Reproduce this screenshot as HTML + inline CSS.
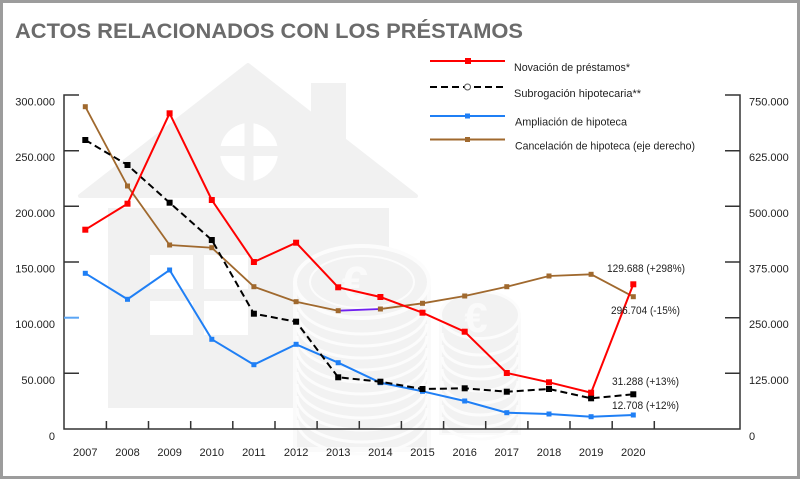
<!DOCTYPE html>
<html><head><meta charset="utf-8"><style>
html,body{margin:0;padding:0;background:#fff;}
svg{display:block;}
text{font-family:"Liberation Sans",sans-serif;}
</style></head><body>
<svg width="800" height="479" viewBox="0 0 800 479" xmlns="http://www.w3.org/2000/svg">
<rect x="0" y="0" width="800" height="479" fill="#fff"/>
<rect x="1.5" y="1.5" width="797" height="476" fill="none" stroke="#9c9c9c" stroke-width="3"/>

<!-- watermark house -->
<g fill="#f1f1f1">
  <rect x="311" y="83" width="35" height="70"/>
  <polygon points="248,65 80,196 416,196" stroke="#f1f1f1" stroke-width="4" stroke-linejoin="round"/>
  <rect x="108" y="208" width="281" height="200"/>
</g>
<circle cx="249" cy="152" r="29" fill="#fff"/>
<rect x="244.5" y="120" width="9" height="64" fill="#f1f1f1"/>
<rect x="218" y="146" width="64" height="10" fill="#f1f1f1"/>
<g fill="#fff">
  <rect x="150" y="255" width="43" height="34"/>
  <rect x="204" y="255" width="44" height="34"/>
  <rect x="150" y="301" width="43" height="34"/>
  <rect x="204" y="301" width="44" height="34"/>
</g>
<!-- coin stack 1 -->
<g>
  <rect x="293" y="282" width="138" height="170" fill="#fafafa"/>
  <rect x="297" y="282" width="130" height="165" fill="#f2f2f2"/>
  <g fill="none" stroke="#fcfcfc" stroke-width="3">
    <path d="M297,300 A65,34 0 0 0 427,300"/>
    <path d="M297,312 A65,34 0 0 0 427,312"/>
    <path d="M297,324 A65,34 0 0 0 427,324"/>
    <path d="M297,336 A65,34 0 0 0 427,336"/>
    <path d="M297,348 A65,34 0 0 0 427,348"/>
    <path d="M297,360 A65,34 0 0 0 427,360"/>
    <path d="M297,372 A65,34 0 0 0 427,372"/>
    <path d="M297,384 A65,34 0 0 0 427,384"/>
    <path d="M297,396 A65,34 0 0 0 427,396"/>
    <path d="M297,408 A65,34 0 0 0 427,408"/>
    <path d="M297,420 A65,34 0 0 0 427,420"/>
  </g>
  <ellipse cx="362" cy="282" rx="69" ry="38" fill="#fcfcfc"/>
  <ellipse cx="362" cy="282" rx="65" ry="34" fill="#f2f2f2"/>
  <ellipse cx="362" cy="282" rx="52" ry="26" fill="none" stroke="#fcfcfc" stroke-width="2"/>
  <text x="355" y="300" font-size="48" font-weight="bold" fill="#fafafa" text-anchor="middle">€</text>
</g>
<!-- coin stack 2 -->
<g>
  <rect x="439" y="315" width="82" height="120" fill="#fafafa"/>
  <rect x="442" y="315" width="76" height="118" fill="#f2f2f2"/>
  <g fill="none" stroke="#fcfcfc" stroke-width="3">
    <path d="M442,333 A38,22 0 0 0 518,333"/>
    <path d="M442,345 A38,22 0 0 0 518,345"/>
    <path d="M442,357 A38,22 0 0 0 518,357"/>
    <path d="M442,369 A38,22 0 0 0 518,369"/>
    <path d="M442,381 A38,22 0 0 0 518,381"/>
    <path d="M442,393 A38,22 0 0 0 518,393"/>
    <path d="M442,405 A38,22 0 0 0 518,405"/>
    <path d="M442,417 A38,22 0 0 0 518,417"/>
  </g>
  <ellipse cx="480" cy="315" rx="41" ry="25" fill="#fcfcfc"/>
  <ellipse cx="480" cy="315" rx="38" ry="22" fill="#f2f2f2"/>
  <text x="476" y="332" font-size="42" font-weight="bold" fill="#fafafa" text-anchor="middle">€</text>
</g>

<!-- title -->
<text x="15" y="38" font-size="21" font-weight="bold" fill="#6b6b6b" textLength="508" lengthAdjust="spacingAndGlyphs">ACTOS RELACIONADOS CON LOS PRÉSTAMOS</text>

<!-- axes -->
<g stroke="#333" stroke-width="1.5" fill="none">
  <path d="M79,95 H64 V429 H740 V95 H725"/>
  <path d="M64,150.7 H79 M64,206.3 H79 M64,262 H79 M64,373.3 H79"/>
  <path d="M725,150.7 H740 M725,206.3 H740 M725,262 H740 M725,317.7 H740 M725,373.3 H740"/>
  <path d="M106.4,429 V421 M148.5,429 V421 M190.7,429 V421 M232.8,429 V421 M275,429 V421 M317.1,429 V421 M359.3,429 V421 M401.4,429 V421 M443.6,429 V421 M485.7,429 V421 M527.9,429 V421 M570,429 V421 M612.2,429 V421 M654.3,429 V421"/>
</g>
<path d="M64,317.7 H79" stroke="#5aa5f5" stroke-width="2"/>

<!-- left labels -->
<g font-size="11" fill="#222" text-anchor="end">
  <text x="55" y="105.5">300.000</text>
  <text x="55" y="161">250.000</text>
  <text x="55" y="217">200.000</text>
  <text x="55" y="272.5">150.000</text>
  <text x="55" y="328">100.000</text>
  <text x="55" y="384">50.000</text>
  <text x="55" y="440">0</text>
</g>
<!-- right labels -->
<g font-size="11" fill="#222">
  <text x="749" y="105.5">750.000</text>
  <text x="749" y="161">625.000</text>
  <text x="749" y="217">500.000</text>
  <text x="749" y="272.5">375.000</text>
  <text x="749" y="328">250.000</text>
  <text x="749" y="384">125.000</text>
  <text x="749" y="440">0</text>
</g>
<!-- years -->
<g font-size="11" fill="#222" text-anchor="middle">
  <text x="85.3" y="456">2007</text>
  <text x="127.5" y="456">2008</text>
  <text x="169.6" y="456">2009</text>
  <text x="211.8" y="456">2010</text>
  <text x="253.9" y="456">2011</text>
  <text x="296.1" y="456">2012</text>
  <text x="338.2" y="456">2013</text>
  <text x="380.4" y="456">2014</text>
  <text x="422.5" y="456">2015</text>
  <text x="464.7" y="456">2016</text>
  <text x="506.8" y="456">2017</text>
  <text x="549" y="456">2018</text>
  <text x="591.1" y="456">2019</text>
  <text x="633.3" y="456">2020</text>
</g>

<!-- brown series -->
<polyline fill="none" stroke="#a0692e" stroke-width="1.8" points="85.3,106.7 127.5,186 169.6,245 211.8,247.7 253.9,286.7 296.1,301.7 338.2,310.7"/>
<polyline fill="none" stroke="#7020f0" stroke-width="1.8" points="338.2,310.7 380.4,309"/>
<polyline fill="none" stroke="#a0692e" stroke-width="1.8" points="380.4,309 422.5,303.3 464.7,296 506.8,286.7 549,276 591.1,274.3 633.3,296.7"/>
<g fill="#a0692e">
  <rect x="82.8" y="104.2" width="5" height="5"/>
  <rect x="125" y="183.5" width="5" height="5"/>
  <rect x="167.1" y="242.5" width="5" height="5"/>
  <rect x="209.3" y="245.2" width="5" height="5"/>
  <rect x="251.4" y="284.2" width="5" height="5"/>
  <rect x="293.6" y="299.2" width="5" height="5"/>
  <rect x="335.7" y="308.2" width="5" height="5"/>
  <rect x="377.9" y="306.5" width="5" height="5"/>
  <rect x="420" y="300.8" width="5" height="5"/>
  <rect x="462.2" y="293.5" width="5" height="5"/>
  <rect x="504.3" y="284.2" width="5" height="5"/>
  <rect x="546.5" y="273.5" width="5" height="5"/>
  <rect x="588.6" y="271.8" width="5" height="5"/>
  <rect x="630.8" y="294.2" width="5" height="5"/>
</g>

<!-- blue series -->
<polyline fill="none" stroke="#1f7ff5" stroke-width="2" points="85.3,273.3 127.5,299.3 169.6,270 211.8,339.3 253.9,364.7 296.1,344.3 338.2,362.7 380.4,382.7 422.5,391.3 464.7,401 506.8,412.7 549,414 591.1,416.7 633.3,415"/>
<g fill="#1f7ff5">
  <rect x="82.8" y="270.8" width="5" height="5"/>
  <rect x="125" y="296.8" width="5" height="5"/>
  <rect x="167.1" y="267.5" width="5" height="5"/>
  <rect x="209.3" y="336.8" width="5" height="5"/>
  <rect x="251.4" y="362.2" width="5" height="5"/>
  <rect x="293.6" y="341.8" width="5" height="5"/>
  <rect x="335.7" y="360.2" width="5" height="5"/>
  <rect x="377.9" y="380.2" width="5" height="5"/>
  <rect x="420" y="388.8" width="5" height="5"/>
  <rect x="462.2" y="398.5" width="5" height="5"/>
  <rect x="504.3" y="410.2" width="5" height="5"/>
  <rect x="546.5" y="411.5" width="5" height="5"/>
  <rect x="588.6" y="414.2" width="5" height="5"/>
  <rect x="630.8" y="412.5" width="5" height="5"/>
</g>

<!-- black dashed series -->
<polyline fill="none" stroke="#000" stroke-width="2" stroke-dasharray="7,4" points="85.3,140 127.5,165 169.6,202.7 211.8,240 253.9,313.7 296.1,321.7 338.2,377.3 380.4,381.7 422.5,389 464.7,388.3 506.8,391.7 549,389 591.1,398.3 633.3,394.3"/>
<g fill="#000">
  <rect x="82.3" y="137" width="6" height="6"/>
  <rect x="124.5" y="162" width="6" height="6"/>
  <rect x="166.6" y="199.7" width="6" height="6"/>
  <rect x="208.8" y="237" width="6" height="6"/>
  <rect x="250.9" y="310.7" width="6" height="6"/>
  <rect x="293.1" y="318.7" width="6" height="6"/>
  <rect x="335.2" y="374.3" width="6" height="6"/>
  <rect x="377.4" y="378.7" width="6" height="6"/>
  <rect x="419.5" y="386" width="6" height="6"/>
  <rect x="461.7" y="385.3" width="6" height="6"/>
  <rect x="503.8" y="388.7" width="6" height="6"/>
  <rect x="546" y="386" width="6" height="6"/>
  <rect x="588.1" y="395.3" width="6" height="6"/>
  <rect x="630.3" y="391.3" width="6" height="6"/>
</g>

<!-- red series -->
<polyline fill="none" stroke="#ff0000" stroke-width="2" points="85.3,229.7 127.5,203.7 169.6,113.3 211.8,200 253.9,262 296.1,242.7 338.2,287.3 380.4,297 422.5,312.7 464.7,331.7 506.8,373 549,382.3 591.1,392.7 633.3,284.3"/>
<g fill="#ff0000">
  <rect x="82.3" y="226.7" width="6" height="6"/>
  <rect x="124.5" y="200.7" width="6" height="6"/>
  <rect x="166.6" y="110.3" width="6" height="6"/>
  <rect x="208.8" y="197" width="6" height="6"/>
  <rect x="250.9" y="259" width="6" height="6"/>
  <rect x="293.1" y="239.7" width="6" height="6"/>
  <rect x="335.2" y="284.3" width="6" height="6"/>
  <rect x="377.4" y="294" width="6" height="6"/>
  <rect x="419.5" y="309.7" width="6" height="6"/>
  <rect x="461.7" y="328.7" width="6" height="6"/>
  <rect x="503.8" y="370" width="6" height="6"/>
  <rect x="546" y="379.3" width="6" height="6"/>
  <rect x="588.1" y="389.7" width="6" height="6"/>
  <rect x="630.3" y="281.3" width="6" height="6"/>
</g>

<!-- annotations -->
<g font-size="11" fill="#222">
  <text x="607" y="272" textLength="78" lengthAdjust="spacingAndGlyphs">129.688 (+298%)</text>
  <text x="611" y="314" textLength="69" lengthAdjust="spacingAndGlyphs">296.704 (-15%)</text>
  <text x="612" y="385" textLength="67" lengthAdjust="spacingAndGlyphs">31.288 (+13%)</text>
  <text x="612" y="409" textLength="67" lengthAdjust="spacingAndGlyphs">12.708 (+12%)</text>
</g>

<!-- legend -->
<line x1="430" y1="61" x2="505" y2="61" stroke="#ff0000" stroke-width="2"/>
<rect x="465" y="58" width="6" height="6" fill="#ff0000"/>
<line x1="430" y1="87" x2="505" y2="87" stroke="#000" stroke-width="2" stroke-dasharray="7,4"/>
<circle cx="467.5" cy="87" r="3" fill="#fff" stroke="#555" stroke-width="1"/>
<line x1="430" y1="116" x2="505" y2="116" stroke="#1f7ff5" stroke-width="2"/>
<rect x="465" y="113.5" width="5" height="5" fill="#1f7ff5"/>
<line x1="430" y1="139.5" x2="505" y2="139.5" stroke="#a0692e" stroke-width="2"/>
<rect x="465" y="137" width="5" height="5" fill="#a0692e"/>
<g font-size="11" fill="#222">
  <text x="514" y="71" textLength="116" lengthAdjust="spacingAndGlyphs">Novación de préstamos*</text>
  <text x="514" y="97" textLength="127" lengthAdjust="spacingAndGlyphs">Subrogación hipotecaria**</text>
  <text x="515" y="125.5" textLength="112" lengthAdjust="spacingAndGlyphs">Ampliación de hipoteca</text>
  <text x="515" y="149.5" textLength="180" lengthAdjust="spacingAndGlyphs">Cancelación de hipoteca (eje derecho)</text>
</g>
</svg>
</body></html>
